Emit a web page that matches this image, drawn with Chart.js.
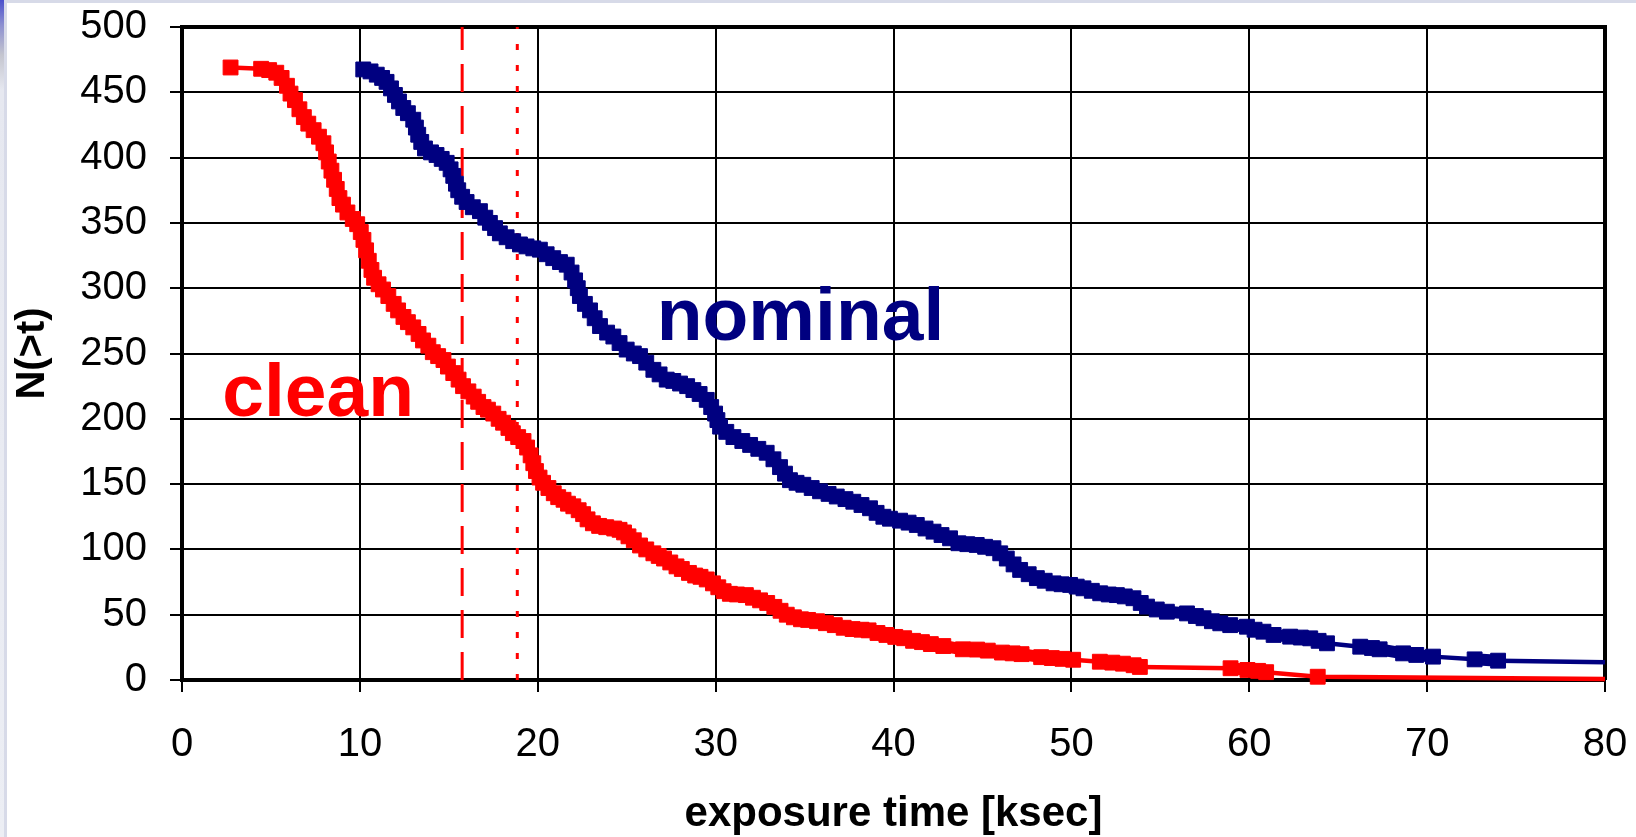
<!DOCTYPE html>
<html>
<head>
<meta charset="utf-8">
<script src="https://cdn.jsdelivr.net/npm/chart.js@4.4.1/dist/chart.umd.min.js"></script>
<style>
    html, body { margin:0; padding:0; background:#fff; }
    #quadro { position:relative; width:1636px; height:837px; overflow:hidden; background:#fff; }
    #grafico { position:absolute; left:0; top:0; }
    #borda-topo { position:absolute; left:0; top:0; width:1636px; height:3px; background:#d7dae8; }
    #borda-esq { position:absolute; left:0; top:0; width:7px; height:837px; background:#d7dae8; }
    #borda-esq-faixa { position:absolute; left:0; top:0; width:4px; height:837px;
        background:linear-gradient(to bottom, #4b50cc 0px, #8c8fd0 25px, #c4c5cf 55px, #e6e8f0 90px, #eceef4 837px); }
</style>
</head>
<body>
<div id="quadro">
    <canvas id="grafico" width="1636" height="837"></canvas>
    <div id="borda-topo"></div>
    <div id="borda-esq"></div>
    <div id="borda-esq-faixa"></div>
</div>
<script>
// clean: tempo de exposicao (ksec) e N(>t)
const tempoClean = [
    2.73, 4.45, 4.9, 5.3, 5.6, 5.9, 6.1, 6.35, 6.6, 6.85, 7.1, 7.4, 7.7, 7.95, 8.1, 8.25, 8.4, 8.55, 8.7, 8.85,
    9.05, 9.3, 9.6, 9.85, 10.05, 10.2, 10.35, 10.5, 10.65, 10.8, 11.05, 11.3, 11.6, 11.9, 12.15, 12.45, 12.7, 13.0,
    13.3, 13.55, 13.85, 14.1, 14.4, 14.7, 14.95, 15.25, 15.55, 15.8, 16.1, 16.4, 16.65, 16.95, 17.2, 17.5, 17.8,
    18.05, 18.35, 18.6, 18.9, 19.2, 19.4, 19.6, 19.75, 19.9, 20.1, 20.3, 20.6, 20.9, 21.15, 21.45, 21.7, 22.0,
    22.3, 22.55, 22.8, 23.1, 23.45, 23.85, 24.3, 24.6, 24.85, 25.1, 25.4, 25.75, 26.1, 26.5, 26.8, 27.1, 27.45,
    27.8, 28.1, 28.5, 28.85, 29.15, 29.5, 29.85, 30.15, 30.45, 30.8, 31.2, 31.7, 32.1, 32.5, 32.9, 33.3, 33.65,
    34.0, 34.4, 34.8, 35.2, 35.7, 36.2, 36.7, 37.2, 37.7, 38.2, 38.6, 39.1, 39.6, 40.1, 40.6, 41.1, 41.6, 42.1,
    42.8, 43.9, 44.7, 45.3, 46.1, 46.7, 47.2, 48.3, 48.9, 49.5, 50.1, 51.6, 52.3, 52.9, 53.5, 53.85, 58.95, 59.9,
    60.5, 60.95, 63.85, 80
];
const contagemClean = [
    469, 468, 467, 465, 461, 455, 449, 444, 437, 431, 426, 421, 416, 411, 404, 397, 390, 383, 376, 369,
    364, 358, 353, 349, 343, 337, 329, 321, 314, 308, 303, 299, 294, 288, 283, 278, 274, 270,
    265, 260, 256, 251, 248, 245, 240, 235, 230, 225, 221, 217, 213, 209, 207, 204, 200,
    197, 193, 189, 186, 183, 178, 172, 166, 160, 155, 151, 147, 143, 140, 138, 135, 133,
    130, 127, 123, 120, 118, 117, 116, 115, 113, 110, 107, 103, 100, 97, 95, 93, 90,
    87, 85, 82, 80, 79, 77, 74, 71, 68, 66, 65.5, 65, 63, 61, 59, 56, 53,
    50, 48, 46.5, 46, 45, 43.5, 42, 40, 39, 38.5, 38, 36, 34.5, 33, 32, 30, 29, 27.5,
    26, 23.5, 23.3, 22.5, 21, 20.4, 19.8, 17.5, 16.8, 16.2, 15.5, 14, 13.3, 12.5, 11.3, 10, 9, 7.7,
    7, 6, 2.5, 0.8
];

// nominal
const tempoNominal = [
    10.19, 10.6, 10.95, 11.25, 11.5, 11.75, 11.97, 12.2, 12.44, 12.7, 13.0, 13.15, 13.28, 13.45, 13.66, 14.0,
    14.31, 14.6, 14.88, 15.1, 15.25, 15.4, 15.53, 15.75, 16.0, 16.35, 16.75, 17.05, 17.31, 17.6, 17.87, 18.25,
    18.62, 19.0, 19.37, 19.75, 20.12, 20.5, 20.87, 21.25, 21.63, 21.9, 22.1, 22.25, 22.37, 22.65, 22.94, 23.2,
    23.5, 23.9, 24.25, 24.6, 25.0, 25.4, 25.75, 26.1, 26.5, 26.85, 27.25, 27.62, 28.0, 28.4, 28.75, 29.1, 29.5,
    29.75, 29.97, 30.1, 30.25, 30.6, 31.0, 31.5, 31.94, 32.4, 32.87, 33.25, 33.62, 33.9, 34.18, 34.55, 34.93,
    35.4, 35.87, 36.35, 36.81, 37.3, 37.74, 38.2, 38.68, 39.05, 39.43, 39.8, 40.37, 40.85, 41.31, 41.8, 42.25,
    42.7, 43.18, 43.65, 44.15, 44.68, 45.15, 45.62, 46.0, 46.37, 46.75, 47.12, 47.6, 48.06, 48.5, 49.0, 49.45,
    49.93, 50.3, 50.68, 51.15, 51.62, 52.1, 52.56, 53.0, 53.49, 53.9, 54.25, 54.8, 55.37, 56.5, 57.0, 57.43,
    57.9, 58.37, 58.93, 59.87, 60.3, 60.8, 61.37, 62.3, 62.9, 63.43, 63.9, 64.37, 66.24, 66.9, 67.33, 68.65,
    69.39, 70.33, 72.67, 73.99, 80
];
const contagemNominal = [
    467.5, 466, 463.5, 461, 458, 453, 448, 443, 438, 434, 429, 423, 417.5, 412, 407, 404,
    402, 399, 396, 391, 386, 380, 375, 370, 366, 362, 359, 354, 350, 346, 342, 339,
    336, 333.5, 332, 330.5, 329.5, 326, 323, 320, 318, 312, 306, 300, 294, 288, 283, 277,
    271, 266, 263, 258, 253, 250, 248, 243, 237.5, 234, 230, 229, 227, 225, 222, 219, 214.5,
    209, 204, 199, 194, 190, 186, 183, 180, 177, 174, 169, 163, 158, 153, 151, 149.5,
    147, 144.5, 142.5, 140.5, 138.5, 136.5, 134, 131.5, 128, 125, 123.5, 122, 120.5, 118.7, 116, 113.6,
    111, 108.5, 104.7, 104, 103.4, 102, 100.9, 97, 93, 88.5, 84.3, 81, 78, 76, 74, 73.3,
    72.8, 71.5, 70.2, 68.3, 66.4, 65.5, 65, 64, 62.6, 59, 56.2, 54, 52.3, 51, 49, 47.3,
    45, 43.4, 42, 40.8, 38.5, 37, 34.5, 33.2, 32.5, 31.9, 30, 28.1, 25.5, 24.5, 23.5, 20.4,
    19.2, 17.9, 15.8, 14.8, 13.5
];

// linhas verticais de corte (ksec)
const corteTracejado = 15.75;
const cortePontilhado = 18.85;

const ticksX = [0, 10, 20, 30, 40, 50, 60, 70, 80];
const ticksY = [0, 50, 100, 150, 200, 250, 300, 350, 400, 450, 500];

const rotulos = [
    { texto: 'nominal', t: 26.69, n: 260.5, cor: '#000080' },
    { texto: 'clean', t: 2.26, n: 202, cor: '#ff0000' }
];

const fonte = '"Liberation Sans", Arial, sans-serif';

function montarPontos(tempos, contagens){
    return tempos.map((t, i) => ({ x: t, y: contagens[i] }));
}

function raioPontos(tempos){
    // o ultimo ponto so fecha a linha ate a borda, sem marcador
    return tempos.map((t, i) => i === tempos.length - 1 ? 0 : 10.5);
}

// trechos onde os marcadores se encostam viram uma faixa grossa
function larguraTrecho(c){
    const dx = c.p1.x - c.p0.x;
    const dy = c.p1.y - c.p0.y;
    return Math.sqrt(dx * dx + dy * dy) < 26 ? 12 : 4.5;
}

// a area do grafico fica so com o padding do layout
function semFolga(scale){
    scale.paddingTop = 0;
    scale.paddingBottom = 0;
    scale.paddingLeft = 0;
    scale.paddingRight = 0;
}

const moldura = {
    id: 'moldura',
    beforeDatasetsDraw(chart){
        const area = chart.chartArea;
        const c = chart.ctx;
        c.save();
        c.strokeStyle = '#000';
        c.lineWidth = 4;
        c.beginPath();
        c.moveTo(area.left, area.top);
        c.lineTo(area.right, area.top);
        c.lineTo(area.right, area.bottom);
        c.stroke();
        c.restore();
    },
    afterDatasetsDraw(chart){
        const c = chart.ctx;
        const x = chart.scales.x;
        const y = chart.scales.y;
        c.save();
        c.font = 'bold 75px ' + fonte;
        c.textAlign = 'left';
        c.textBaseline = 'alphabetic';
        rotulos.forEach(r => {
            c.fillStyle = r.cor;
            c.fillText(r.texto, x.getPixelForValue(r.t), y.getPixelForValue(r.n));
        });
        c.restore();
    }
};

const ctx = document.getElementById('grafico');

new Chart(ctx, {
    type: 'line',
    data: {
        datasets: [
            {
                label: 'clean',
                data: montarPontos(tempoClean, contagemClean),
                borderColor: '#ff0000',
                backgroundColor: '#ff0000',
                borderWidth: 4.5,
                segment: { borderWidth: larguraTrecho },
                pointStyle: 'rect',
                pointRadius: raioPontos(tempoClean),
                pointBorderWidth: 1,
                pointBackgroundColor: '#ff0000',
                pointBorderColor: '#ff0000',
                tension: 0,
                clip: false,
                order: 1
            },
            {
                label: 'nominal',
                data: montarPontos(tempoNominal, contagemNominal),
                borderColor: '#000080',
                backgroundColor: '#000080',
                borderWidth: 4.5,
                segment: { borderWidth: larguraTrecho },
                pointStyle: 'rect',
                pointRadius: raioPontos(tempoNominal),
                pointBorderWidth: 1,
                pointBackgroundColor: '#000080',
                pointBorderColor: '#000080',
                tension: 0,
                clip: false,
                order: 1
            },
            {
                label: 'corte tracejado',
                data: [{ x: corteTracejado, y: 0 }, { x: corteTracejado, y: 500 }],
                borderColor: '#ff0000',
                borderWidth: 3,
                borderDash: [28, 14],
                pointRadius: 0,
                order: 2
            },
            {
                label: 'corte pontilhado',
                data: [{ x: cortePontilhado, y: 0 }, { x: cortePontilhado, y: 500 }],
                borderColor: '#ff0000',
                borderWidth: 3,
                borderDash: [6, 15],
                pointRadius: 0,
                order: 2
            }
        ]
    },
    options: {
        responsive: false,
        animation: false,
        events: [],
        layout: { padding: { top: 27, right: 31, bottom: 0, left: 0 } },
        plugins: {
            legend: { display: false },
            tooltip: { enabled: false }
        },
        scales: {
            x: {
                type: 'linear',
                min: 0,
                max: 80,
                afterBuildTicks(scale){
                    scale.ticks = ticksX.map(v => ({ value: v }));
                },
                ticks: {
                    color: '#000',
                    padding: 33,
                    maxRotation: 0,
                    font: { family: fonte, size: 40, lineHeight: 1 }
                },
                grid: { color: '#000', lineWidth: 2, tickLength: 12, tickColor: '#000', tickWidth: 2 },
                border: { color: '#000', width: 4 },
                title: {
                    display: true,
                    text: 'exposure time [ksec]',
                    color: '#000',
                    padding: { top: 0, bottom: 2 },
                    font: { family: fonte, size: 42, weight: 'bold', lineHeight: 1 }
                },
                afterFit(scale){
                    scale.height = 157;
                    semFolga(scale);
                }
            },
            y: {
                type: 'linear',
                min: 0,
                max: 500,
                afterBuildTicks(scale){
                    scale.ticks = ticksY.map(v => ({ value: v }));
                },
                ticks: {
                    color: '#000',
                    padding: 23,
                    font: { family: fonte, size: 40, lineHeight: 1 }
                },
                grid: { color: '#000', lineWidth: 2, tickLength: 12, tickColor: '#000', tickWidth: 2 },
                border: { color: '#000', width: 4 },
                title: {
                    display: true,
                    text: 'N(>t)',
                    color: '#000',
                    padding: { top: 13, bottom: 0 },
                    font: { family: fonte, size: 40, weight: 'bold', lineHeight: 1 }
                },
                afterFit(scale){
                    scale.width = 182;
                    semFolga(scale);
                }
            }
        }
    },
    plugins: [moldura]
});
</script>
</body>
</html>
